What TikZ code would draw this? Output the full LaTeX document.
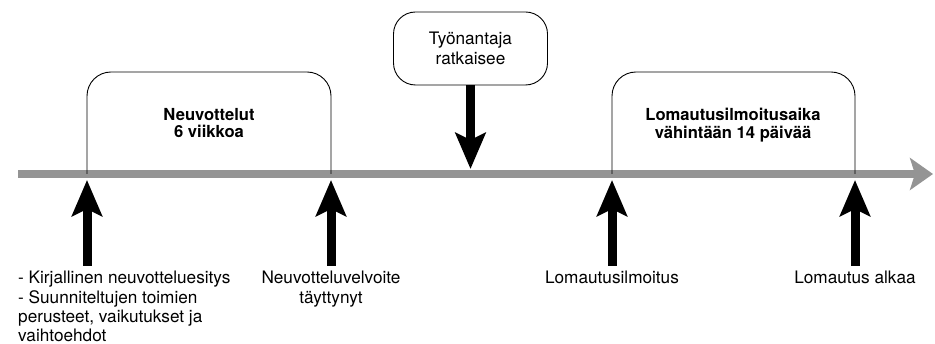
\documentclass[tikz,border=0pt]{standalone}
\usepackage{fontspec}
\setmainfont{TeX Gyre Heros}
\usetikzlibrary{arrows.meta}

\tikzset{
	timeline/.style={line width=8pt, color=black!42, -{Stealth[length=23pt, width=32pt, inset=5pt]}},
	bigarrow/.style={line width=9pt, -{Stealth[length=36pt, width=30pt, inset=7pt]}},
	periodbox/.style={line width=0.9pt, rounded corners=24pt},
	periodtext/.style={anchor=north, inner sep=0pt, align=center, font=\bfseries\fontsize{16.6}{17.7}\selectfont},
	labeltext/.style={anchor=north, inner sep=0pt, font=\fontsize{17.2}{19.3}\selectfont},
	decisionbox/.style={draw, line width=0.9pt, rounded corners=22pt, minimum width=154pt, minimum height=73pt, align=center, font=\fontsize{17.2}{20}\selectfont}
}

\begin{document}
\begin{tikzpicture}[x=1pt,y=-1pt]
		\useasboundingbox (0,0) rectangle (935,344);
		
		% aikajana
		\coordinate (alku) at (18,174);
		\coordinate (loppu) at (933,174);
		\draw[timeline] (alku) -- (loppu);
		
		% jaksot
		\coordinate (neuvA) at (87,174);
		\coordinate (neuvB) at (331,174);
		\coordinate (lomA) at (612,174);
		\coordinate (lomB) at (855,174);
		\draw[periodbox] (neuvA) |- (209,72) -| (neuvB);
		\draw[periodbox] (lomA) |- (733,72) -| (lomB);
		\node[periodtext] (neuvottelut) at (209,108) {Neuvottelut\\6 viikkoa};
		\node[periodtext] (ilmoitusaika) at (733,108) {Lomautusilmoitusaika\\vähintään 14 päivää};
		
		% ylhaalta
		\node[decisionbox] (ratkaisu) at (470.5,48.5) {Työnantaja\\ratkaisee};
		\coordinate (ratkaisuB) at (470.5,169);
		\draw[bigarrow] (ratkaisu.south) -- (ratkaisuB);
		
		% alhaalta
		\foreach \x/\n in {87/1, 331/2, 612/3, 855/4}{
			\coordinate (ala\n) at (\x,266);
			\coordinate (ylos\n) at (\x,180);
			\draw[bigarrow] (ala\n) -- (ylos\n);
		}
		
		\node[labeltext, anchor=north west, align=left] (esitys) at (18,271) {- Kirjallinen neuvotteluesitys\\- Suunniteltujen toimien\\perusteet, vaikutukset ja\\vaihtoehdot};
		\node[labeltext, align=center] (velvoite) at (331,271) {Neuvotteluvelvoite\\täyttynyt};
		\node[labeltext] (ilmoitus) at (612,271) {Lomautusilmoitus};
		\node[labeltext] (alkaa) at (855,271) {Lomautus alkaa};
	\end{tikzpicture}
\end{document}
